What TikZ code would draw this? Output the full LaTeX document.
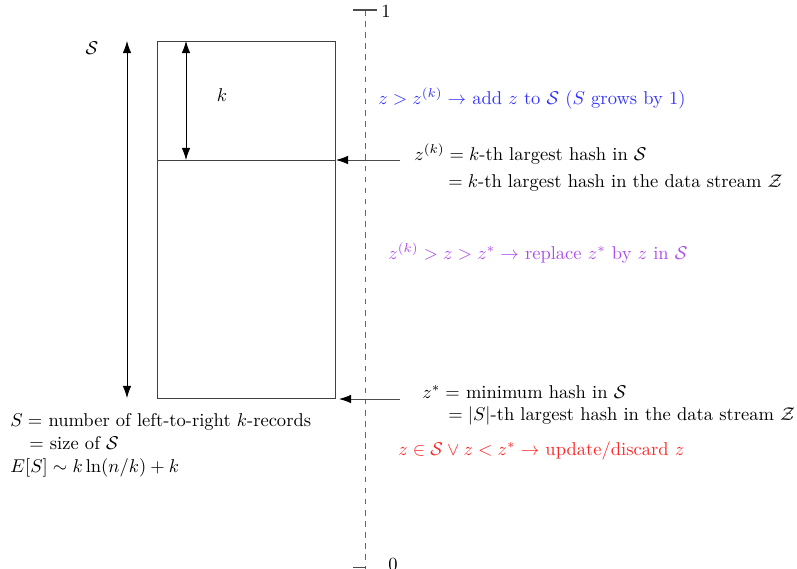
\documentclass[tikz,border=0pt]{standalone}
\usepackage{amsmath,amssymb}
\usetikzlibrary{arrows.meta}
\definecolor{addblue}{rgb}{0.2,0.2,1}
\definecolor{replpurple}{rgb}{0.68,0.3,0.92}
\definecolor{updred}{rgb}{1,0.15,0.15}
\tikzset{
  frame/.style={draw=black!75, line width=0.5pt},
  dbl/.style={{Latex[length=6.5pt,width=4.6pt]}-{Latex[length=6.5pt,width=4.6pt]}, line width=0.45pt},
  ptr/.style={-{Latex[length=6.5pt,width=4.6pt,color=black]}, draw=black!70, line width=0.45pt},
  lbl/.style={inner sep=0pt, anchor=base west},
  axis/.style={draw=black!60, dashed, line width=0.5pt},
  tick/.style={draw=black!70, line width=0.6pt},
}
\begin{document}
\begin{tikzpicture}[x=0.54pt,y=-0.54pt]
\useasboundingbox (0,0) rectangle (797,569);
% axis
\coordinate (atop) at (365,10);
\coordinate (abot) at (365,569);
\draw[axis] (atop) -- (abot);
\coordinate (t1a) at (353,10);
\coordinate (t1b) at (377,10);
\draw[tick] (t1a) -- (t1b);
\coordinate (t0a) at (353,567.5);
\coordinate (t0b) at (366,567.5);
\draw[tick] (t0a) -- (t0b);
\node (one) at (386,12) {$1$};
\node (zero) at (393,565) {$0$};
% rectangle
\coordinate (tl) at (157,41);
\coordinate (br) at (335,398);
\coordinate (ml) at (157,160);
\coordinate (mr) at (335,160);
\draw[frame] (tl) rectangle (br);
\draw[frame] (ml) -- (mr);
% left arrows
\coordinate (sa) at (127,41);
\coordinate (sb) at (127,398);
\draw[dbl] (sa) -- (sb);
\node (Slab) at (92,48) {$\mathcal{S}$};
\coordinate (ka) at (186,41);
\coordinate (kb) at (186,160);
\draw[dbl] (ka) -- (kb);
\node (klab) at (222,95) {$k$};
% pointers
\coordinate (p1s) at (400,160);
\coordinate (p1e) at (336,160);
\draw[ptr] (p1s) -- (p1e);
\coordinate (p2s) at (400,399);
\coordinate (p2e) at (339,399);
\draw[ptr] (p2s) -- (p2e);
% texts right
\node[lbl, text=addblue] (add) at (378,104) {$z > z^{(k)} \to$ add $z$ to $\mathcal{S}$ ($S$ grows by 1)};
\node[lbl] (zk1) at (414,160) {$z^{(k)} = k$-th largest hash in $\mathcal{S}$};
\node[lbl] (zk2) at (448,187) {$= k$-th largest hash in the data stream $\mathcal{Z}$};
\node[lbl, text=replpurple] (repl) at (388,259) {$z^{(k)} > z > z^* \to$ replace $z^*$ by $z$ in $\mathcal{S}$};
\node[lbl] (zs1) at (422,398) {$z^* = $ minimum hash in $\mathcal{S}$};
\node[lbl] (zs2) at (448,420) {$= |S|$-th largest hash in the data stream $\mathcal{Z}$};
\node[lbl, text=updred] (upd) at (398,455) {$z \in \mathcal{S} \vee z < z^* \to$ update/discard $z$};
% texts left
\node[lbl] (s1) at (10,426) {$S = $ number of left-to-right $k$-records};
\node[lbl] (s2) at (29,449) {$=$ size of $\mathcal{S}$};
\node[lbl] (s3) at (10,472) {$E[S] \sim k\ln(n/k) + k$};
\end{tikzpicture}
\end{document}
